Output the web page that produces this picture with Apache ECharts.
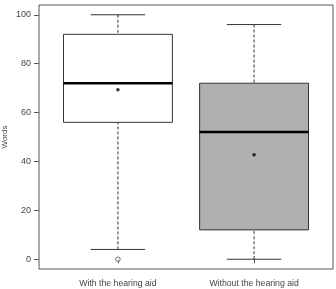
<!DOCTYPE html>
<html>
<head>
<meta charset="utf-8">
<script src="https://cdn.jsdelivr.net/npm/echarts@6/dist/echarts.min.js"></script>
<style>
  html, body { margin: 0; padding: 0; background: #fff; }
  #chart { width: 336px; height: 289px; }
</style>
</head>
<body>
<div id="chart"></div>
<script>
// data
const categories = ['With the hearing aid', 'Without the hearing aid'];
const whiskerLow = [4, 0];
const q1 = [56, 12];
const median = [72, 52];
const q3 = [92, 72];
const whiskerHigh = [100, 96];
const means = [69.3, 42.7];
const outliers = [[1, 0]];   // [group position, value]
const yTicks = [0, 20, 40, 60, 80, 100];
const boxFill = ['#ffffff', '#b0b0b0'];

const rows = categories.map((c, i) => [i + 1, whiskerLow[i], q1[i], median[i], q3[i], whiskerHigh[i], i]);

const chart = echarts.init(document.getElementById('chart'));

function renderBox(params, api) {
    const x = api.value(0);
    const idx = api.value(6);
    const halfBox = 0.4, halfCap = 0.2;
    const p = (xx, yy) => api.coord([xx, yy]);
    const lo = p(x, api.value(1)), b1 = p(x, api.value(2)), md = p(x, api.value(3));
    const b3 = p(x, api.value(4)), hi = p(x, api.value(5));
    const left = p(x - halfBox, 0)[0], right = p(x + halfBox, 0)[0];
    const capL = p(x - halfCap, 0)[0], capR = p(x + halfCap, 0)[0];
    const line = '#333';
    const dash = { stroke: line, lineWidth: 1, lineDash: [3, 2] };
    return {
        type: 'group',
        children: [
            { type: 'line', shape: { x1: hi[0], y1: hi[1], x2: hi[0], y2: b3[1] }, style: dash },
            { type: 'line', shape: { x1: lo[0], y1: lo[1], x2: lo[0], y2: b1[1] }, style: dash },
            { type: 'line', shape: { x1: capL, y1: hi[1], x2: capR, y2: hi[1] }, style: { stroke: line, lineWidth: 1 } },
            { type: 'line', shape: { x1: capL, y1: lo[1], x2: capR, y2: lo[1] }, style: { stroke: line, lineWidth: 1 } },
            { type: 'rect', shape: { x: left, y: b3[1], width: right - left, height: b1[1] - b3[1] },
              style: { fill: boxFill[idx], stroke: line, lineWidth: 1 } },
            { type: 'line', shape: { x1: left, y1: md[1], x2: right, y2: md[1] }, style: { stroke: '#000', lineWidth: 2.5 } }
        ]
    };
}

chart.setOption({
    animation: false,
    textStyle: { fontFamily: 'Liberation Sans, Arial, sans-serif' },
    grid: {
        left: 39, right: 3, top: 5, bottom: 20,
        outerBoundsMode: 'none', containLabel: false,
        show: true, borderColor: '#555', borderWidth: 1, backgroundColor: 'transparent'
    },
    xAxis: {
        type: 'value', min: 0.42, max: 2.58,
        splitLine: { show: false },
        axisLine: { show: false },
        axisTick: { show: true, length: 4, customValues: [1, 2], lineStyle: { color: '#555' } },
        axisLabel: {
            customValues: [1, 2], color: '#444', fontSize: 8.7, margin: 10,
            formatter: v => categories[Math.round(v) - 1] || ''
        }
    },
    yAxis: {
        type: 'value', min: -4, max: 104,
        name: 'Words', nameLocation: 'middle', nameGap: 30, nameMoveOverlap: false,
        nameTextStyle: { color: '#444', fontSize: 8 },
        splitLine: { show: false },
        axisLine: { show: false },
        axisTick: { show: true, length: 5, customValues: yTicks, lineStyle: { color: '#555' } },
        axisLabel: { customValues: yTicks, color: '#444', fontSize: 9, margin: 8 }
    },
    series: [
        {
            type: 'custom',
            renderItem: renderBox,
            data: rows,
            encode: { x: 0, y: [1, 2, 3, 4, 5] }
        },
        {
            type: 'scatter',
            data: means.map((m, i) => [i + 1, m]),
            symbol: 'circle', symbolSize: 3.5,
            itemStyle: { color: '#000' }
        },
        {
            type: 'scatter',
            data: outliers,
            symbol: 'circle', symbolSize: 4.5,
            itemStyle: { color: '#fff', borderColor: '#333', borderWidth: 0.9 }
        }
    ]
});
</script>
</body>
</html>
